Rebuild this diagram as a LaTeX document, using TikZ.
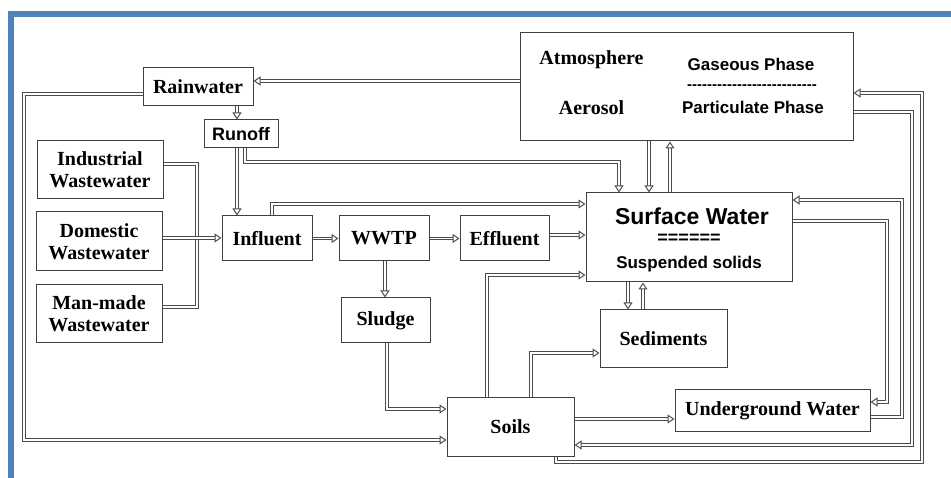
\documentclass[tikz,border=0pt]{standalone}
\usepackage{fontspec}
\setmainfont{Liberation Serif}
\newfontfamily\sansbold{Liberation Sans}
\usetikzlibrary{arrows.meta}
\definecolor{framecol}{RGB}{79,129,189}
\tikzset{
    box/.style={draw=black!75, line width=1pt, fill=white, inner sep=0pt, align=center,
        font=\bfseries\fontsize{20}{22}\selectfont},
    sanstext/.style={inner sep=0pt, font=\sansbold\bfseries\fontsize{17}{20}\selectfont},
    seriftext/.style={inner sep=0pt, font=\bfseries\fontsize{20}{22}\selectfont},
    pipe/.style={draw=black!70, line width=1pt, double=white, double distance=1.5pt},
    flow/.style={pipe, -{Triangle[open,fill=white,length=7pt,width=9pt]}}
}
\begin{document}
\begin{tikzpicture}[x=1pt,y=-1pt]
    \useasboundingbox (0,0) rectangle (951,478);
    % frame
    \fill[framecol] (8,11) rectangle (951,17);
    \fill[framecol] (8,11) rectangle (14,478);
    % boxes
    \node[box, minimum width=110, minimum height=38] (rain) at (198,87) {Rainwater};
    \node[box, minimum width=74, minimum height=28, font=\sansbold\bfseries\fontsize{18}{20}\selectfont] (runoff) at (241,134) {Runoff};
    \node[box, minimum width=126, minimum height=58] (indus) at (100,170) {Industrial\\Wastewater};
    \node[box, minimum width=126, minimum height=59] (domes) at (99,241.5) {Domestic\\Wastewater};
    \node[box, minimum width=126, minimum height=58] (manmade) at (99,314) {Man-made\\Wastewater};
    \node[box, minimum width=90, minimum height=45] (influent) at (267,238.5) {Influent};
    \node[box, minimum width=90, minimum height=45] (wwtp) at (384,238.5) {WWTP};
    \node[box, minimum width=89, minimum height=45] (effluent) at (504.5,238.5) {Effluent};
    \node[box, minimum width=89, minimum height=45] (sludge) at (385.5,320.5) {Sludge};
    \node[box, minimum width=127, minimum height=58] (soils) at (510.5,427) {Soils};
    \node[box, minimum width=333, minimum height=108] (atmos) at (686.5,87) {};
    \node[box, minimum width=206, minimum height=89] (surface) at (689,237.5) {};
    \node[box, minimum width=127, minimum height=58] (sedim) at (663.5,339) {Sediments};
    \node[box, minimum width=195, minimum height=41] (under) at (772.5,410.5) {Underground Water};
    % texts in atmosphere and surface water
    \node[seriftext] (atmtext) at (591.5,60) {Atmosphere};
    \node[seriftext] (aerosol) at (591.5,108) {Aerosol};
    \node[sanstext] (gas) at (751,64) {Gaseous Phase};
    \node[sanstext, font=\sansbold\bfseries\fontsize{15}{16}\selectfont] (dashes) at (752,87) {--------------------------};
    \node[sanstext] (particulate) at (753,107) {Particulate Phase};
    \node[sanstext, font=\sansbold\bfseries\fontsize{23}{26}\selectfont] (swtext) at (692,216) {Surface Water};
    \node[sanstext, font=\sansbold\bfseries\fontsize{18}{20}\selectfont] (eqs) at (689,239) {======};
    \node[sanstext] (solids) at (689,264) {Suspended solids};
    % connectors
    \draw[flow] (atmos.west |- 0,81) -- (rain.east |- 0,81);
    \draw[flow] (rain.south -| 237,0) -- (runoff.north -| 237,0);
    \draw[flow] (rain.west |- 0,94) -| (24,440) -- (soils.west |- 0,440);
    \draw[flow] (runoff.south -| 237,0) -- (influent.north -| 237,0);
    \draw[flow] (runoff.south -| 245,0) |- (619,162) -- (surface.north -| 619,0);
    \draw[flow] (atmos.south -| 649,0) -- (surface.north -| 649,0);
    \draw[flow] (surface.north -| 670,0) -- (atmos.south -| 670,0);
    \draw[flow] (influent.north -| 272,0) |- (surface.west |- 0,204);
    \coordinate (join) at (197,238);
    \draw[pipe] (indus.east |- 0,164) -| (join);
    \draw[pipe] (manmade.east |- 0,307) -| (join);
    \draw[flow] (domes.east |- 0,238) -- (influent.west |- 0,238);
    \draw[flow] (influent.east) -- (wwtp.west);
    \draw[flow] (wwtp.east) -- (effluent.west);
    \draw[flow] (effluent.east |- 0,235) -- (surface.west |- 0,235);
    \draw[flow] (wwtp.south -| 385,0) -- (sludge.north -| 385,0);
    \draw[flow] (sludge.south -| 387,0) |- (soils.west |- 0,409);
    \draw[flow] (soils.north -| 487,0) |- (surface.west |- 0,275);
    \draw[flow] (soils.north -| 531,0) |- (sedim.west |- 0,353);
    \draw[flow] (surface.south -| 628,0) -- (sedim.north -| 628,0);
    \draw[flow] (sedim.north -| 643,0) -- (surface.south -| 643,0);
    \draw[flow] (soils.east |- 0,419) -- (under.west |- 0,419);
    \draw[flow] (surface.east |- 0,221) -| (887,402) -- (under.east |- 0,402);
    \draw[flow] (under.east |- 0,417) -| (902,200) -- (surface.east |- 0,200);
    \draw[flow] (atmos.east |- 0,112) -| (912,445) -- (soils.east |- 0,445);
    \draw[flow] (soils.south -| 556,0) |- (922,462) |- (atmos.east |- 0,93);
\end{tikzpicture}
\end{document}
